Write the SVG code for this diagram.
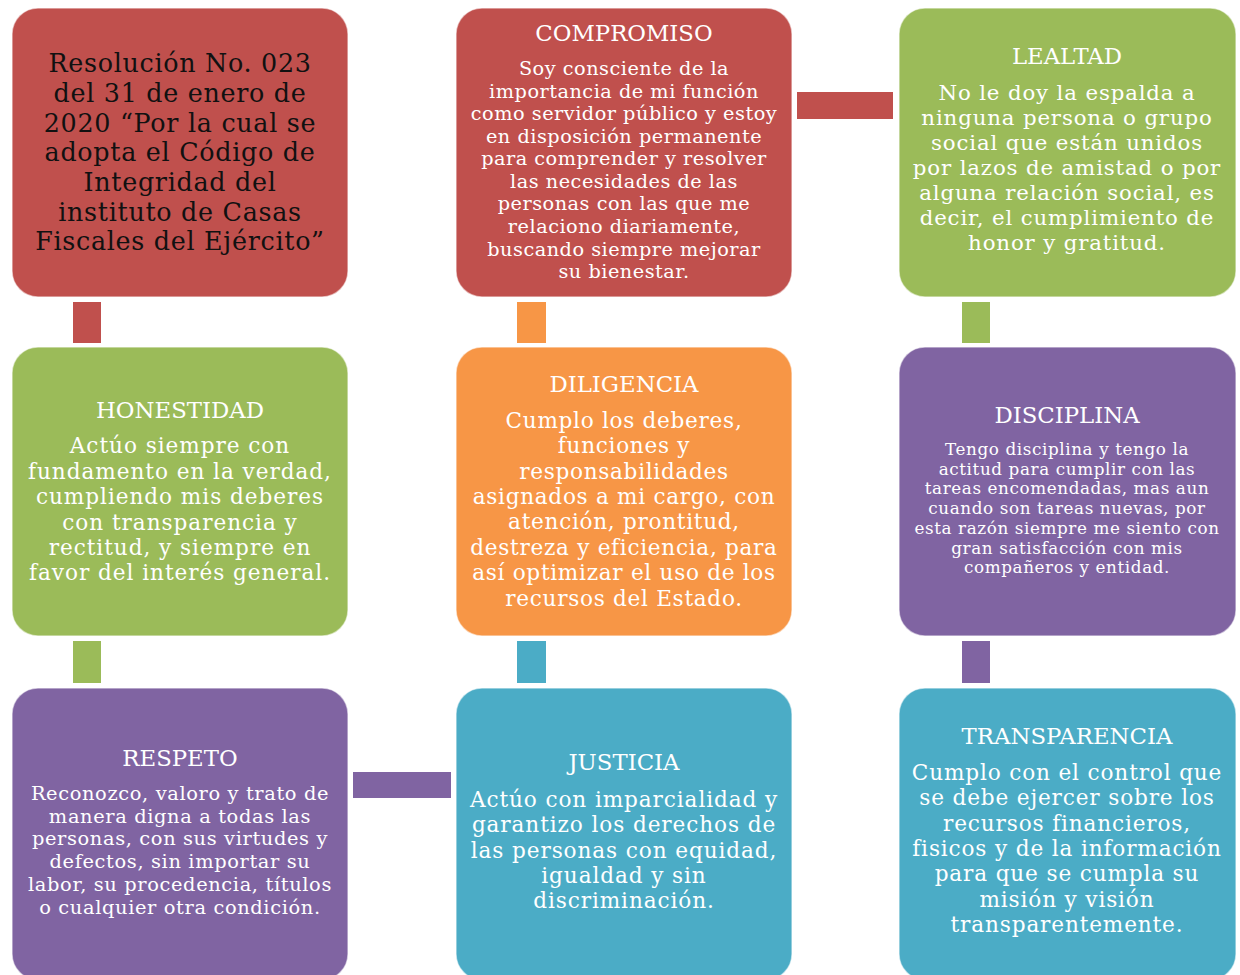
<svg xmlns="http://www.w3.org/2000/svg" width="1240" height="975" viewBox="0 0 1240 975">
<style>
.box{stroke:#ffffff;stroke-opacity:0.55;stroke-width:1.5}
.red{fill:#C0504D}.green{fill:#9BBB59}.purple{fill:#8064A2}.orange{fill:#F79646}.blue{fill:#4BACC6}
text{font-family:"DejaVu Serif","Liberation Serif",serif;text-anchor:middle;fill:#ffffff}
.t{font-size:22.8px}
.dark{fill:#111111}
</style>
<rect width="1240" height="975" fill="#ffffff"/>
<g id="connectors">
<rect class="red" x="73" y="302" width="28" height="41"/>
<rect class="orange" x="517" y="302" width="29" height="41"/>
<rect class="green" x="962" y="302" width="28" height="41"/>
<rect class="green" x="73" y="641" width="28" height="42"/>
<rect class="blue" x="517" y="641" width="29" height="42"/>
<rect class="purple" x="962" y="641" width="28" height="42"/>
<rect class="red" x="797" y="92" width="96" height="27"/>
<rect class="purple" x="353" y="772" width="98" height="26"/>
</g>
<g id="resolucion">
<rect class="box red" x="12" y="8" width="336" height="289" rx="26"/>
<text class="dark" font-size="25.4" letter-spacing="0.7"><tspan x="180" y="72">Resolución No. 023</tspan><tspan x="180" y="102">del 31 de enero de</tspan><tspan x="180" y="132">2020 “Por la cual se</tspan><tspan x="180" y="161">adopta el Código de</tspan><tspan x="180" y="191">Integridad del</tspan><tspan x="180" y="221">instituto de Casas</tspan><tspan x="180" y="250">Fiscales del Ejército”</tspan></text>
</g>
<g id="compromiso">
<rect class="box red" x="456" y="8" width="336" height="289" rx="26"/>
<text class="t" x="624" y="41">COMPROMISO</text>
<text font-size="19.3" letter-spacing="0.5"><tspan x="624" y="75">Soy consciente de la</tspan><tspan x="624" y="98">importancia de mi función</tspan><tspan x="624" y="120">como servidor público y estoy</tspan><tspan x="624" y="143">en disposición permanente</tspan><tspan x="624" y="165">para comprender y resolver</tspan><tspan x="624" y="188">las necesidades de las</tspan><tspan x="624" y="210">personas con las que me</tspan><tspan x="624" y="233">relaciono diariamente,</tspan><tspan x="624" y="256">buscando siempre mejorar</tspan><tspan x="624" y="278">su bienestar.</tspan></text>
</g>
<g id="lealtad">
<rect class="box green" x="899" y="8" width="337" height="289" rx="26"/>
<text class="t" x="1067" y="64">LEALTAD</text>
<text font-size="21.3" letter-spacing="0.85"><tspan x="1067" y="100">No le doy la espalda a</tspan><tspan x="1067" y="125">ninguna persona o grupo</tspan><tspan x="1067" y="150">social que están unidos</tspan><tspan x="1067" y="175">por lazos de amistad o por</tspan><tspan x="1067" y="200">alguna relación social, es</tspan><tspan x="1067" y="225">decir, el cumplimiento de</tspan><tspan x="1067" y="250">honor y gratitud.</tspan></text>
</g>
<g id="honestidad">
<rect class="box green" x="12" y="347" width="336" height="289" rx="26"/>
<text class="t" x="180" y="418">HONESTIDAD</text>
<text font-size="21.6" letter-spacing="0.95"><tspan x="180" y="453">Actúo siempre con</tspan><tspan x="180" y="479">fundamento en la verdad,</tspan><tspan x="180" y="504">cumpliendo mis deberes</tspan><tspan x="180" y="530">con transparencia y</tspan><tspan x="180" y="555">rectitud, y siempre en</tspan><tspan x="180" y="580">favor del interés general.</tspan></text>
</g>
<g id="diligencia">
<rect class="box orange" x="456" y="347" width="336" height="289" rx="26"/>
<text class="t" x="624" y="392">DILIGENCIA</text>
<text font-size="21.6" letter-spacing="0.7"><tspan x="624" y="428">Cumplo los deberes,</tspan><tspan x="624" y="453">funciones y</tspan><tspan x="624" y="479">responsabilidades</tspan><tspan x="624" y="504">asignados a mi cargo, con</tspan><tspan x="624" y="529">atención, prontitud,</tspan><tspan x="624" y="555">destreza y eficiencia, para</tspan><tspan x="624" y="580">así optimizar el uso de los</tspan><tspan x="624" y="606">recursos del Estado.</tspan></text>
</g>
<g id="disciplina">
<rect class="box purple" x="899" y="347" width="337" height="289" rx="26"/>
<text class="t" x="1067" y="423">DISCIPLINA</text>
<text font-size="16.8" letter-spacing="0.6"><tspan x="1067" y="455">Tengo disciplina y tengo la</tspan><tspan x="1067" y="474.7">actitud para cumplir con las</tspan><tspan x="1067" y="494.4">tareas encomendadas, mas aun</tspan><tspan x="1067" y="514.1">cuando son tareas nuevas, por</tspan><tspan x="1067" y="533.8">esta razón siempre me siento con</tspan><tspan x="1067" y="553.5">gran satisfacción con mis</tspan><tspan x="1067" y="573.2">compañeros y entidad.</tspan></text>
</g>
<g id="respeto">
<rect class="box purple" x="12" y="688" width="336" height="292" rx="26"/>
<text class="t" x="180" y="766">RESPETO</text>
<text font-size="19.4" letter-spacing="0.63"><tspan x="180" y="800">Reconozco, valoro y trato de</tspan><tspan x="180" y="822.7">manera digna a todas las</tspan><tspan x="180" y="845.4">personas, con sus virtudes y</tspan><tspan x="180" y="868.1">defectos, sin importar su</tspan><tspan x="180" y="890.8">labor, su procedencia, títulos</tspan><tspan x="180" y="913.5">o cualquier otra condición.</tspan></text>
</g>
<g id="justicia">
<rect class="box blue" x="456" y="688" width="336" height="292" rx="26"/>
<text class="t" x="624" y="770">JUSTICIA</text>
<text font-size="21.6" letter-spacing="0.9"><tspan x="624" y="807">Actúo con imparcialidad y</tspan><tspan x="624" y="832.3">garantizo los derechos de</tspan><tspan x="624" y="857.6">las personas con equidad,</tspan><tspan x="624" y="882.9">igualdad y sin</tspan><tspan x="624" y="908.2">discriminación.</tspan></text>
</g>
<g id="transparencia">
<rect class="box blue" x="899" y="688" width="337" height="292" rx="26"/>
<text class="t" x="1067" y="744">TRANSPARENCIA</text>
<text font-size="21.6" letter-spacing="0.85"><tspan x="1067" y="780">Cumplo con el control que</tspan><tspan x="1067" y="805.3">se debe ejercer sobre los</tspan><tspan x="1067" y="830.6">recursos financieros,</tspan><tspan x="1067" y="855.9">fisicos y de la información</tspan><tspan x="1067" y="881.2">para que se cumpla su</tspan><tspan x="1067" y="906.5">misión y visión</tspan><tspan x="1067" y="931.8">transparentemente.</tspan></text>
</g>
</svg>
